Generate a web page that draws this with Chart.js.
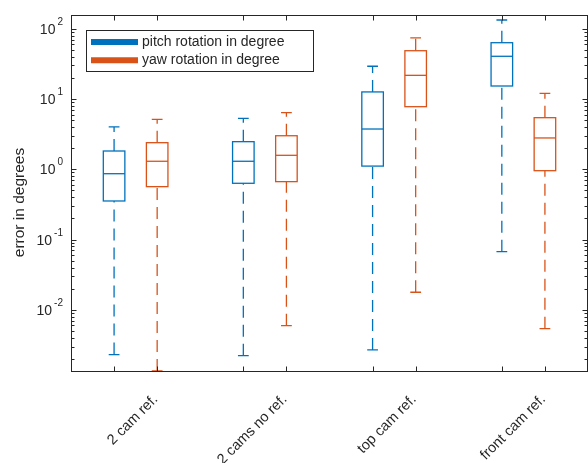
<!DOCTYPE html>
<html>
<head>
<meta charset="utf-8">
<script src="https://cdn.jsdelivr.net/npm/chart.js@4.4.1/dist/chart.umd.min.js"></script>
<style>
    html, body { margin: 0; padding: 0; background: #fff; }
    #wrap { width: 588px; height: 463px; overflow: hidden; }
</style>
</head>
<body>
<div id="wrap"><canvas id="boxChart" width="588" height="463"></canvas></div>
<script>
// categories on the x axis
const categories = ['2 cam ref.', '2 cams no ref.', 'top cam ref.', 'front cam ref.'];
const seriesNames = ['pitch rotation in degree', 'yaw rotation in degree'];

// pitch boxes (lower whisker, q1, median, q3, upper whisker)
const pitchLow = [0.00231, 0.00223, 0.00269, 0.0673];
const pitchQ1 = [0.354, 0.632, 1.11, 15.3];
const pitchMed = [0.865, 1.30, 3.74, 40.5];
const pitchQ3 = [1.82, 2.47, 12.6, 63.2];
const pitchHigh = [4.0, 5.31, 29.2, 133];

// yaw boxes
const yawLow = [0.00135, 0.00596, 0.0178, 0.0054];
const yawQ1 = [0.566, 0.667, 7.77, 0.955];
const yawMed = [1.30, 1.58, 21.7, 2.79];
const yawQ3 = [2.39, 3.0, 48.6, 5.42];
const yawHigh = [5.14, 6.38, 73.8, 12.05];

// y axis (log) range and decade ticks
const yMin = 0.00135;
const yMax = 156.6;
const yDecades = [-2, -1, 0, 1, 2];

const BLUE = '#0072BD';
const ORANGE = '#D95319';
const AXIS = '#262626';
const FONT = '"Liberation Sans", Arial, sans-serif';

// slot of each box on the linear x scale (group i -> 3i+1 / 3i+2)
const pitchPos = categories.map((c, i) => 3 * i + 1);
const yawPos = categories.map((c, i) => 3 * i + 2);
const groupCenters = categories.map((c, i) => 3 * i + 1.5);

const series = [
    { name: seriesNames[0], color: BLUE, pos: pitchPos, low: pitchLow, q1: pitchQ1, med: pitchMed, q3: pitchQ3, high: pitchHigh },
    { name: seriesNames[1], color: ORANGE, pos: yawPos, low: yawLow, q1: yawQ1, med: yawMed, q3: yawQ3, high: yawHigh }
];

function drawBoxes(ctx, x, y, s) {
    ctx.strokeStyle = s.color;
    ctx.lineWidth = 1.3;
    s.pos.forEach((p, i) => {
        const cx = x.getPixelForValue(p);
        const bh = x.getPixelForValue(p + 0.25) - cx;
        const ch = x.getPixelForValue(p + 0.125) - cx;
        const yl = y.getPixelForValue(s.low[i]);
        const y1 = y.getPixelForValue(s.q1[i]);
        const ym = y.getPixelForValue(s.med[i]);
        const y3 = y.getPixelForValue(s.q3[i]);
        const yh = y.getPixelForValue(s.high[i]);

        // whiskers, dashed, drawn from low value upward like matlab
        ctx.setLineDash([12, 7]);
        ctx.beginPath();
        ctx.moveTo(cx, yl); ctx.lineTo(cx, y1);
        ctx.moveTo(cx, y3); ctx.lineTo(cx, yh);
        ctx.stroke();
        ctx.setLineDash([]);

        // caps
        ctx.beginPath();
        ctx.moveTo(cx - ch, yl); ctx.lineTo(cx + ch, yl);
        ctx.moveTo(cx - ch, yh); ctx.lineTo(cx + ch, yh);
        ctx.stroke();

        // box + median
        ctx.strokeRect(cx - bh, y3, 2 * bh, y1 - y3);
        ctx.beginPath();
        ctx.moveTo(cx - bh, ym); ctx.lineTo(cx + bh, ym);
        ctx.stroke();
    });
}

const boxPlugin = {
    id: 'matlabBoxplot',
    afterDraw(chart) {
        const { ctx, chartArea: a, scales: { x, y } } = chart;
        ctx.save();

        // boxes, clipped to the axes
        ctx.save();
        ctx.beginPath();
        ctx.rect(a.left, a.top - 1, a.right - a.left, a.bottom - a.top + 2);
        ctx.clip();
        series.forEach(s => drawBoxes(ctx, x, y, s));
        ctx.restore();

        // frame
        ctx.strokeStyle = AXIS;
        ctx.lineWidth = 1;
        const L = Math.round(a.left) + 0.5, R = Math.round(a.right) - 0.5;
        const T = Math.round(a.top) + 0.5, B = Math.round(a.bottom) + 0.5;
        ctx.strokeRect(L, T, R - L, B - T);

        // inward ticks
        ctx.beginPath();
        pitchPos.concat(yawPos).forEach(p => {
            const px = Math.round(x.getPixelForValue(p)) + 0.5;
            ctx.moveTo(px, B); ctx.lineTo(px, B - 5);
            ctx.moveTo(px, T); ctx.lineTo(px, T + 5);
        });
        for (let k = -3; k <= 2; k++) {
            for (let m = 1; m <= 9; m++) {
                const v = m * Math.pow(10, k);
                if (v < yMin || v > yMax) continue;
                const py = Math.round(y.getPixelForValue(v)) + 0.5;
                const len = m === 1 ? 5 : 3;
                ctx.moveTo(L, py); ctx.lineTo(L + len, py);
                ctx.moveTo(R, py); ctx.lineTo(R - len, py);
            }
        }
        ctx.stroke();

        // y tick labels 10^k
        ctx.fillStyle = AXIS;
        ctx.textBaseline = 'alphabetic';
        yDecades.forEach(k => {
            const py = y.getPixelForValue(Math.pow(10, k));
            const exp = k < 0 ? '-' + (-k) : String(k);
            ctx.font = '10px ' + FONT;
            const ew = ctx.measureText(exp).width;
            ctx.textAlign = 'right';
            ctx.fillText(exp, 63, py - 4);
            ctx.font = '14px ' + FONT;
            ctx.fillText('10', 63 - ew - 2, py + 5);
        });

        // y axis title
        ctx.save();
        ctx.translate(23.5, 202.5);
        ctx.rotate(-Math.PI / 2);
        ctx.font = '15.5px ' + FONT;
        ctx.textAlign = 'center';
        ctx.fillText('error in degrees', 0, 0);
        ctx.restore();

        // legend
        ctx.fillStyle = '#fff';
        ctx.fillRect(86.5, 30.5, 227, 41);
        ctx.strokeStyle = AXIS;
        ctx.lineWidth = 1;
        ctx.strokeRect(86.5, 30.5, 227, 41);
        series.forEach((s, i) => {
            const ly = 42 + i * 18.3;
            ctx.strokeStyle = s.color;
            ctx.lineWidth = 6;
            ctx.beginPath();
            ctx.moveTo(91, ly); ctx.lineTo(138, ly);
            ctx.stroke();
            ctx.fillStyle = AXIS;
            ctx.font = '14px ' + FONT;
            ctx.textAlign = 'left';
            ctx.textBaseline = 'middle';
            ctx.fillText(s.name, 142, ly);
        });

        ctx.restore();
    }
};

const config = {
    type: 'scatter',
    data: {
        datasets: series.map(s => ({
            label: s.name,
            data: s.pos.map((p, i) => ({ x: p, y: s.med[i] })),
            pointRadius: 0,
            borderColor: s.color,
            backgroundColor: s.color
        }))
    },
    options: {
        responsive: false,
        animation: false,
        layout: { padding: { top: 15, right: -2, left: 0, bottom: 0 } },
        plugins: {
            legend: { display: false },
            tooltip: { enabled: false }
        },
        scales: {
            x: {
                type: 'linear',
                min: 0,
                max: 12,
                grid: { display: false, drawTicks: false },
                border: { display: false },
                afterBuildTicks: s => { s.ticks = groupCenters.map(v => ({ value: v })); },
                afterFit: s => { s.height = 92; },
                ticks: {
                    autoSkip: false,
                    minRotation: 45,
                    maxRotation: 45,
                    padding: 20,
                    labelOffset: 20,
                    color: AXIS,
                    font: { family: FONT, size: 14.5 },
                    callback: (v, i) => categories[i]
                }
            },
            y: {
                type: 'logarithmic',
                min: yMin,
                max: yMax,
                grid: { display: false },
                border: { display: false },
                ticks: { display: false },
                afterFit: s => { s.width = 71; }
            }
        }
    },
    plugins: [boxPlugin]
};

const ctx = document.getElementById('boxChart').getContext('2d');
const chartInstance = new Chart(ctx, config);
</script>
</body>
</html>
